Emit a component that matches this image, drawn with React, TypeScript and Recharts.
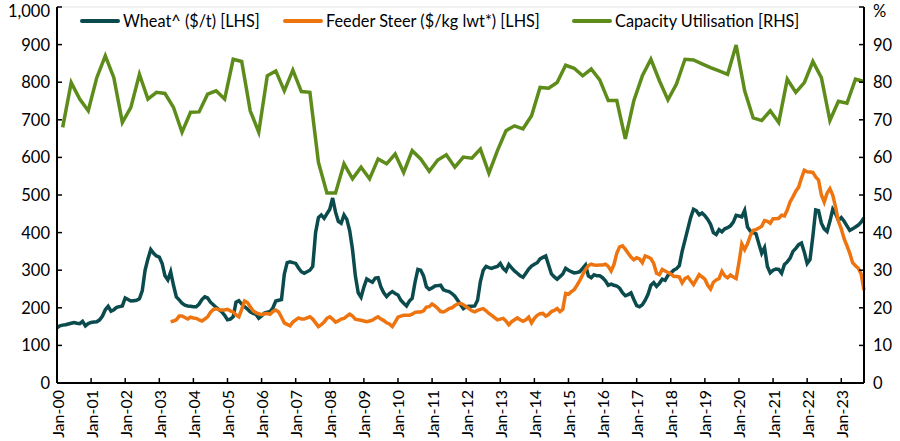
import React from "react";
import { LineChart, Line, XAxis, YAxis, CartesianGrid } from "recharts";

// monthly from Jan-00 (index 0) to Sep-23 (index 284)
const wheat = [
  147, 152, 154, 155, 157, 159, 161, 159, 158, 164, 152, 158,
  161, 162, 163, 168, 178, 195, 204, 191, 195, 201, 203, 205,
  226, 222, 218, 219, 220, 224, 245, 300, 330, 355, 345, 338,
  335, 318, 285, 274, 296, 260, 229, 221, 212, 207, 205, 204,
  203, 203, 210, 222, 229, 226, 215, 208, 201, 195, 189, 180,
  168, 170, 176, 215, 219, 210, 203, 197, 189, 185, 183, 172,
  178, 186, 188, 190, 200, 218, 220, 222, 290, 320, 322, 320,
  318, 306, 296, 292, 296, 300, 310, 400, 440, 447, 438, 450,
  462, 492, 455, 430, 425, 447, 435, 405, 355, 285, 240, 228,
  255, 277, 272, 268, 279, 280, 255, 240, 230, 238, 243, 238,
  234, 220, 212, 205, 218, 225, 268, 302, 300, 285, 256, 249,
  253, 258, 259, 260, 248, 245, 243, 238, 231, 220, 208, 198,
  203, 204, 204, 205, 220, 270, 300, 310, 307, 305, 308, 310,
  318, 305, 298, 315, 306, 298, 292, 285, 281, 292, 303, 311,
  316, 320, 330, 334, 338, 314, 290, 282, 276, 283, 290, 305,
  300, 296, 293, 294, 296, 305, 314, 285, 280, 288, 285, 285,
  280, 272, 260, 263, 260, 258, 252, 240, 232, 235, 240, 222,
  206, 203, 208, 220, 236, 260, 267, 257, 265, 276, 273, 286,
  292, 300, 304, 312, 350, 380, 410, 440, 462, 458, 447, 452,
  445, 435, 422, 400, 395, 408, 402, 410, 413, 418, 428, 446,
  444, 442, 459, 415, 404, 400, 397, 370, 345, 360, 310, 293,
  300, 303, 302, 292, 315, 322, 332, 350, 358, 368, 372, 348,
  318, 328, 390, 460, 458, 425, 410, 403, 430, 462, 450, 433,
  440, 430, 418, 406, 410, 415, 420, 428, 440,
];

// feeder steer starts May-03 (index 40)
const steerStart = 40;
const steer = [
  163, 165, 168, 178, 178, 174, 170, 175,
  173, 172, 168, 165, 170, 176, 188, 195, 197, 195, 194, 194,
  196, 192, 189, 181, 176, 196, 218, 214, 203, 192, 187, 184,
  182, 184, 185, 183, 190, 194, 189, 175, 160, 156, 152, 162,
  168, 173, 170, 170, 173, 176, 170, 160, 150, 155, 162, 172,
  176, 170, 162, 165, 170, 172, 178, 183, 178, 170, 168, 167,
  165, 163, 165, 167, 172, 176, 170, 166, 160, 157, 150, 162,
  175, 178, 180, 180, 180, 183, 188, 189, 189, 192, 202, 203,
  210, 205, 198, 190, 189, 193, 198, 200, 206, 210, 212, 208,
  203, 198, 192, 189, 193, 196, 198, 192, 185, 180, 174, 168,
  170, 172, 165, 155, 163, 168, 173, 168, 164, 168, 175, 160,
  172, 180, 184, 185, 178, 182, 190, 193, 198, 190, 196, 238,
  236, 243, 248, 260, 273, 288, 302, 312, 316, 314, 313, 314,
  314, 316, 310, 298, 315, 345, 362, 365, 356, 345, 335, 328,
  333, 330, 320, 338, 335, 331, 318, 292, 288, 302, 298, 294,
  290, 284, 283, 282, 266, 278, 282, 272, 262, 275, 288, 282,
  276, 260, 250, 268, 274, 278, 297, 285, 280, 287, 282, 278,
  320, 370, 355, 370, 392, 406, 408, 412, 417, 432, 430, 425,
  437, 437, 438, 446, 444, 460, 482, 495, 510, 521, 545, 566,
  562, 561, 560, 548, 540, 500, 481, 505, 517, 500, 468, 430,
  410, 384, 365, 345, 320, 312, 305, 290, 247,
];

// quarterly, Mar-00 (index 2) to Sep-23 (index 284)
const capStart = 2;
const capacity = [
  68.0, 79.9, 75.5, 72.4, 81.2, 87.0, 81.2, 69.3, 73.3, 82.1, 75.5, 77.3,
  77.0, 73.3, 66.7, 72.0, 72.1, 76.8, 77.7, 75.5, 86.1, 85.5, 72.4, 66.7,
  81.7, 83.0, 77.7, 83.2, 77.5, 77.3, 58.7, 50.5, 50.5, 58.3, 54.3, 57.4,
  54.3, 59.6, 58.3, 60.9, 56.0, 61.8, 59.6, 56.3, 59.3, 60.7, 57.4, 60.1,
  59.8, 62.2, 55.8, 61.8, 67.1, 68.4, 67.6, 71.1, 78.6, 78.4, 79.9, 84.5,
  83.7, 81.7, 83.5, 80.6, 75.1, 75.1, 64.9, 75.1, 81.7, 86.1, 80.4, 75.3,
  79.5, 86.1, 85.9, 84.9, 83.9, 83.0, 82.1, 89.9, 77.7, 70.5, 69.8, 72.4,
  69.3, 80.8, 77.3, 79.9, 85.5, 81.2, 69.8, 74.9, 74.4, 80.8, 80.2,
];

const tickLabels = [
  "Jan-00", "Jan-01", "Jan-02", "Jan-03", "Jan-04", "Jan-05", "Jan-06", "Jan-07",
  "Jan-08", "Jan-09", "Jan-10", "Jan-11", "Jan-12", "Jan-13", "Jan-14", "Jan-15",
  "Jan-16", "Jan-17", "Jan-18", "Jan-19", "Jan-20", "Jan-21", "Jan-22", "Jan-23",
];
const leftTicks = [0, 100, 200, 300, 400, 500, 600, 700, 800, 900, 1000];
const rightTicks = [0, 10, 20, 30, 40, 50, 60, 70, 80, 90, 100];

const WHEAT = "#0b4b4e";
const STEER = "#ee7410";
const CAP = "#5e8c1a";
const FONT = "Lato, 'Open Sans', sans-serif";

const data = wheat.map((w, i) => {
  const q = i - capStart;
  return {
    m: i,
    wheat: w,
    steer: i >= steerStart ? steer[i - steerStart] : null,
    cap: q >= 0 && q % 3 === 0 ? capacity[q / 3] : null,
  };
});

const xTicks = tickLabels.map((_, i) => i * 12);

const XTick = (props: any) => {
  const { x, y, payload } = props;
  const label = tickLabels[payload.value / 12];
  return (
    <text
      x={x}
      y={y}
      transform={`rotate(-90, ${x}, ${y})`}
      textAnchor="end"
      dominantBaseline="central"
      fontFamily={FONT}
      fontSize={16}
      fill="#000"
    >
      {label}
    </text>
  );
};

// y-axis label; the top one is nudged down so it stays inside the picture
const makeYTick = (anchor: "start" | "end", top: number, fmt: (v: number) => string) => (props: any) => {
  const { x, y, payload } = props;
  const nudge = payload.value === top ? 4 : 0;
  return (
    <text
      x={x}
      y={y + nudge}
      textAnchor={anchor}
      dominantBaseline="central"
      fontFamily={FONT}
      fontSize={16.5}
      fill="#000"
    >
      {fmt(payload.value)}
    </text>
  );
};

const LeftTick = makeYTick("end", 1000, (v) => v.toLocaleString("en-US"));
const RightTick = makeYTick("start", 100, (v) => (v === 100 ? "%" : String(v)));

const legendItems = [
  { name: "Wheat^ ($/t) [LHS]", color: WHEAT, left: 80 },
  { name: "Feeder Steer ($/kg lwt*) [LHS]", color: STEER, left: 283 },
  { name: "Capacity Utilisation [RHS]", color: CAP, left: 572 },
];

export default function App() {
  return (
    <div style={{ position: "absolute", left: 0, top: 0, width: 900, height: 441, background: "#fff" }}>
      <LineChart width={900} height={441} data={data} margin={{ top: 7, right: 0, left: 0, bottom: 0 }}>
        <CartesianGrid vertical={false} stroke="#e3e3e3" strokeWidth={1.2} />
        <XAxis
          dataKey="m"
          type="number"
          domain={[0, 284]}
          ticks={xTicks}
          interval={0}
          height={58}
          tick={<XTick />}
          tickSize={-5}
          tickMargin={12}
          axisLine={{ stroke: "#000", strokeWidth: 2 }}
          tickLine={{ stroke: "#000", strokeWidth: 1.5 }}
        />
        <YAxis
          yAxisId="left"
          domain={[0, 1000]}
          ticks={leftTicks}
          interval={0}
          width={57}
          tickSize={-5}
          tickMargin={12}
          tick={<LeftTick />}
          axisLine={{ stroke: "#000", strokeWidth: 2 }}
          tickLine={{ stroke: "#000", strokeWidth: 1.5 }}
        />
        <YAxis
          yAxisId="right"
          orientation="right"
          domain={[0, 100]}
          ticks={rightTicks}
          interval={0}
          width={36}
          tickSize={-5}
          tickMargin={14}
          tick={<RightTick />}
          axisLine={{ stroke: "#000", strokeWidth: 2 }}
          tickLine={{ stroke: "#000", strokeWidth: 1.5 }}
        />
        <Line yAxisId="left" dataKey="wheat" stroke={WHEAT} strokeWidth={3.5} dot={false} isAnimationActive={false} />
        <Line yAxisId="left" dataKey="steer" stroke={STEER} strokeWidth={3.5} dot={false} isAnimationActive={false} />
        <Line
          yAxisId="right"
          dataKey="cap"
          stroke={CAP}
          strokeWidth={3.5}
          dot={false}
          connectNulls
          isAnimationActive={false}
        />
      </LineChart>
      {legendItems.map((item) => (
        <div
          key={item.name}
          style={{
            position: "absolute",
            left: item.left,
            top: 11,
            display: "flex",
            alignItems: "center",
            fontFamily: FONT,
            fontSize: 16.3,
            color: "#000",
            whiteSpace: "nowrap",
          }}
        >
          <span
            style={{ display: "inline-block", width: 40, height: 4, borderRadius: 2, background: item.color, marginRight: 3 }}
          />
          {item.name}
        </div>
      ))}
    </div>
  );
}
